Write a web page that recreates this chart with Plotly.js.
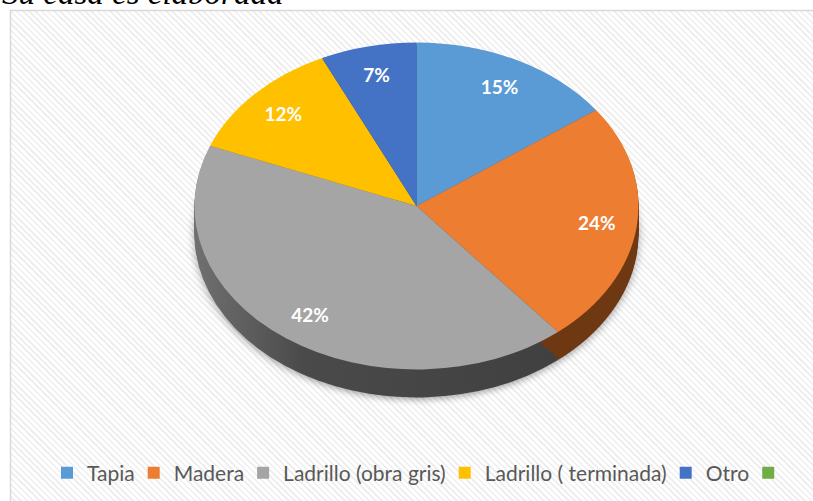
<!DOCTYPE html>
<html><head><meta charset="utf-8">
<script src="https://cdn.plot.ly/plotly-3.0.1.min.js"></script>
<style>
html,body{margin:0;padding:0;background:#fff;}
#wrap{position:relative;width:813px;height:501px;overflow:hidden;}
#bg{position:absolute;left:10px;top:10px;right:0;bottom:0;
  background:repeating-linear-gradient(45deg,#ffffff 0px,#ffffff 2.6px,#efefef 2.6px,#efefef 4.4px);}
#chart{position:absolute;left:0;top:0;width:813px;height:501px;}
</style></head>
<body><div id="wrap"><div id="bg"></div><div id="chart"></div></div>
<script>
// ---- data ----
const categories = ['Tapia', 'Madera', 'Ladrillo (obra gris)', 'Ladrillo ( terminada)', 'Otro', ' '];
const percentValues = [15, 24, 42, 12, 7, 0];
const topColors = ['#5b9bd5', '#ed7d31', '#a5a5a5', '#ffc000', '#4472c4', '#70ad47'];
const sideColors = ['#365d80', '#6e3813', '#474747', '#8c6a00', '#2a4478', '#44692b'];
const titleText = 'Su casa es elaborada';

// ---- geometry of the tilted pie (pixels) ----
const PIE_CX = 416.5, PIE_CY = 206, PIE_RX = 222, PIE_RY = 163.5, DEPTH = 28;
const LABEL_RADIUS = 0.82; // fraction of radius where labels sit
const W = 813, H = 501;

const domain = {x: [(PIE_CX - PIE_RX) / W, (PIE_CX + PIE_RX) / W], y: [0.02, 0.98]};
const textPos = percentValues.map(v => v > 0 ? 'inside' : 'none');

const sideTrace = {
  type: 'pie', labels: categories, values: percentValues, sort: false,
  direction: 'clockwise', rotation: 0, domain: domain, showlegend: false,
  marker: {colors: sideColors, line: {width: 0}}, textinfo: 'none', hoverinfo: 'skip'
};
const topTrace = {
  type: 'pie', labels: categories, values: percentValues, sort: false,
  direction: 'clockwise', rotation: 0, domain: domain,
  marker: {colors: topColors, line: {width: 0}},
  textinfo: 'percent', textposition: textPos, insidetextorientation: 'horizontal',
  insidetextfont: {family: 'Lato, sans-serif', size: 19, color: '#ffffff', weight: 'bold'}
};

const layout = {
  width: W, height: H,
  margin: {l: 0, r: 0, t: 0, b: 0},
  paper_bgcolor: 'rgba(0,0,0,0)', plot_bgcolor: 'rgba(0,0,0,0)',
  showlegend: true,
  legend: {
    orientation: 'h', x: 426 / W, xanchor: 'center', y: 28 / H, yanchor: 'middle',
    bgcolor: 'rgba(0,0,0,0)', font: {family: 'Lato, sans-serif', size: 21, color: '#595959'},
    traceorder: 'normal', indentation: -6
  },
  annotations: [{
    text: titleText, xref: 'paper', yref: 'paper', x: 0, xanchor: 'left',
    y: 1 - 13 / H, yanchor: 'bottom', showarrow: false,
    font: {family: 'Liberation Serif, serif', size: 33, color: '#000000', style: 'italic'}
  }],
  shapes: [{
    type: 'rect', xref: 'paper', yref: 'paper', x0: 10.5 / W, x1: 1.05, y0: -0.05, y1: 1 - 10.5 / H,
    line: {color: '#d9d9d9', width: 1.5}, fillcolor: 'rgba(0,0,0,0)', layer: 'below'
  }]
};

const gd = document.getElementById('chart');
Plotly.newPlot(gd, [sideTrace, topTrace], layout, {staticPlot: true, displayModeBar: false}).then(function () {
  const traces = gd.querySelectorAll('.pielayer .trace');
  if (traces.length < 2) return;
  const sideG = traces[0], topG = traces[1];
  const cd = gd.calcdata[1][0];
  const cx = cd.cx, cy = cd.cy, r = cd.r;
  const sx = PIE_RX / r, sy = PIE_RY / r;
  const mat = off => 'matrix(' + sx + ',0,0,' + sy + ',' + (PIE_CX - sx * cx) + ',' + (PIE_CY + off - sy * cy) + ')';

  // gradient for the large grey side wall
  const svg = gd.querySelector('svg.main-svg');
  const NS = 'http://www.w3.org/2000/svg';
  let defs = svg.querySelector('defs');
  if (!defs) { defs = document.createElementNS(NS, 'defs'); svg.insertBefore(defs, svg.firstChild); }
  const grad = document.createElementNS(NS, 'linearGradient');
  grad.setAttribute('id', 'sideGrad');
  grad.setAttribute('x1', '0'); grad.setAttribute('x2', '1'); grad.setAttribute('y1', '0'); grad.setAttribute('y2', '0');
  [['0', '#707070'], ['0.3', '#4a4a4a'], ['1', '#404040']].forEach(function (s) {
    const st = document.createElementNS(NS, 'stop');
    st.setAttribute('offset', s[0]); st.setAttribute('stop-color', s[1]);
    grad.appendChild(st);
  });
  defs.appendChild(grad);
  const sideSlices = sideG.querySelectorAll('g.slice path.surface');
  if (sideSlices[2]) sideSlices[2].style.fill = 'url(#sideGrad)';

  // side wall: stacked copies of the dark pie
  sideG.setAttribute('transform', mat(DEPTH));
  sideG.style.filter = 'drop-shadow(0px 3px 4px rgba(0,0,0,0.35))';
  for (let off = 1; off < DEPTH; off += 1.5) {
    const c = sideG.cloneNode(true);
    c.style.filter = 'none';
    c.setAttribute('transform', mat(off));
    sideG.parentNode.insertBefore(c, topG);
  }
  // top face; labels kept upright and pushed to a common radius
  topG.setAttribute('transform', mat(0));
  topG.querySelectorAll('g.slicetext').forEach(function (g) {
    const b = g.getBBox();
    const tx = b.x + b.width / 2, ty = b.y + b.height / 2;
    const dx = tx - cx, dy = ty - cy, rho = Math.hypot(dx, dy) || 1;
    const f = LABEL_RADIUS * r / rho;
    const nx = cx + dx * f, ny = cy + dy * f;
    g.setAttribute('transform', 'translate(' + nx + ',' + ny + ') scale(' + (1 / sx) + ',' + (1 / sy) + ') translate(' + (-tx) + ',' + (-ty) + ')');
  });
});
</script>
</body></html>
